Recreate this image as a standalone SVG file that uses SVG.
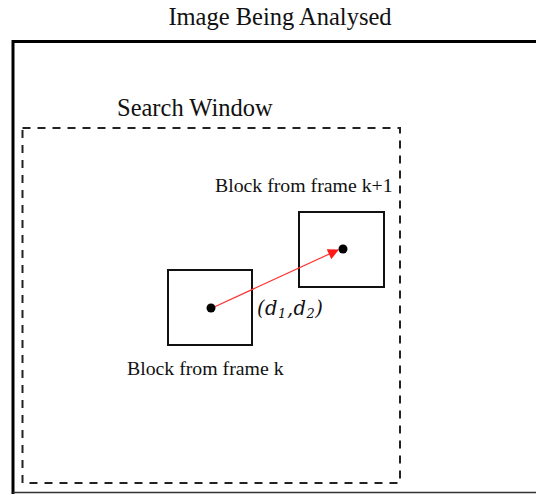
<svg xmlns="http://www.w3.org/2000/svg" width="536" height="495" viewBox="0 0 536 495">
  <style>
    .lbl { font-family: "Liberation Serif", "Times New Roman", serif; fill: #111; }
    .math { font-family: "DejaVu Serif", "Liberation Serif", serif; font-style: italic; fill: #111; }
    .block { fill: none; stroke: #111; stroke-width: 2; }
    .dot { fill: #000; }
  </style>
  <defs>
    <marker id="arrowhead" viewBox="0 0 10 10" refX="9" refY="5" markerWidth="13" markerHeight="11" orient="auto" markerUnits="userSpaceOnUse">
      <path d="M0,0 L10,5 L0,10 z" fill="#ff1a1a"/>
    </marker>
  </defs>
  <rect width="536" height="495" fill="#fff"/>

  <!-- outer image frame (extends past right edge) -->
  <g id="image-frame">
    <text class="lbl" x="280" y="25" font-size="24.5" text-anchor="middle">Image Being Analysed</text>
    <path d="M13,494 L13,41.5 L540,41.5" fill="none" stroke="#000" stroke-width="3"/>
    <path d="M13,492.5 L540,492.5" fill="none" stroke="#333" stroke-width="1.5"/>
  </g>

  <!-- search window -->
  <g id="search-window">
    <text class="lbl" x="117" y="116" font-size="24.5">Search Window</text>
    <rect x="22.5" y="128" width="377.5" height="355" fill="none" stroke="#222" stroke-width="2" stroke-dasharray="8,7"/>
  </g>

  <!-- block from frame k -->
  <g id="block-k">
    <rect class="block" x="168" y="270" width="84" height="75"/>
    <text class="lbl" x="127" y="375" font-size="19.8">Block from frame k</text>
  </g>

  <!-- block from frame k+1 -->
  <g id="block-k1">
    <rect class="block" x="299" y="212" width="85" height="75"/>
    <text class="lbl" x="215" y="192" font-size="19.8">Block from frame k+1</text>
  </g>

  <!-- motion vector -->
  <g id="connectors">
    <line x1="212" y1="308" x2="338" y2="250" stroke="#ff3333" stroke-width="1.2" marker-end="url(#arrowhead)"/>
    <circle class="dot" cx="211" cy="308" r="4.5"/>
    <circle class="dot" cx="343" cy="249" r="4.5"/>
    <text class="math" x="257" y="315" font-size="19.5" letter-spacing="0.5">(d<tspan font-size="13" dy="3">1</tspan><tspan dy="-3">,d</tspan><tspan font-size="13" dy="3">2</tspan><tspan dy="-3">)</tspan></text>
  </g>
</svg>
